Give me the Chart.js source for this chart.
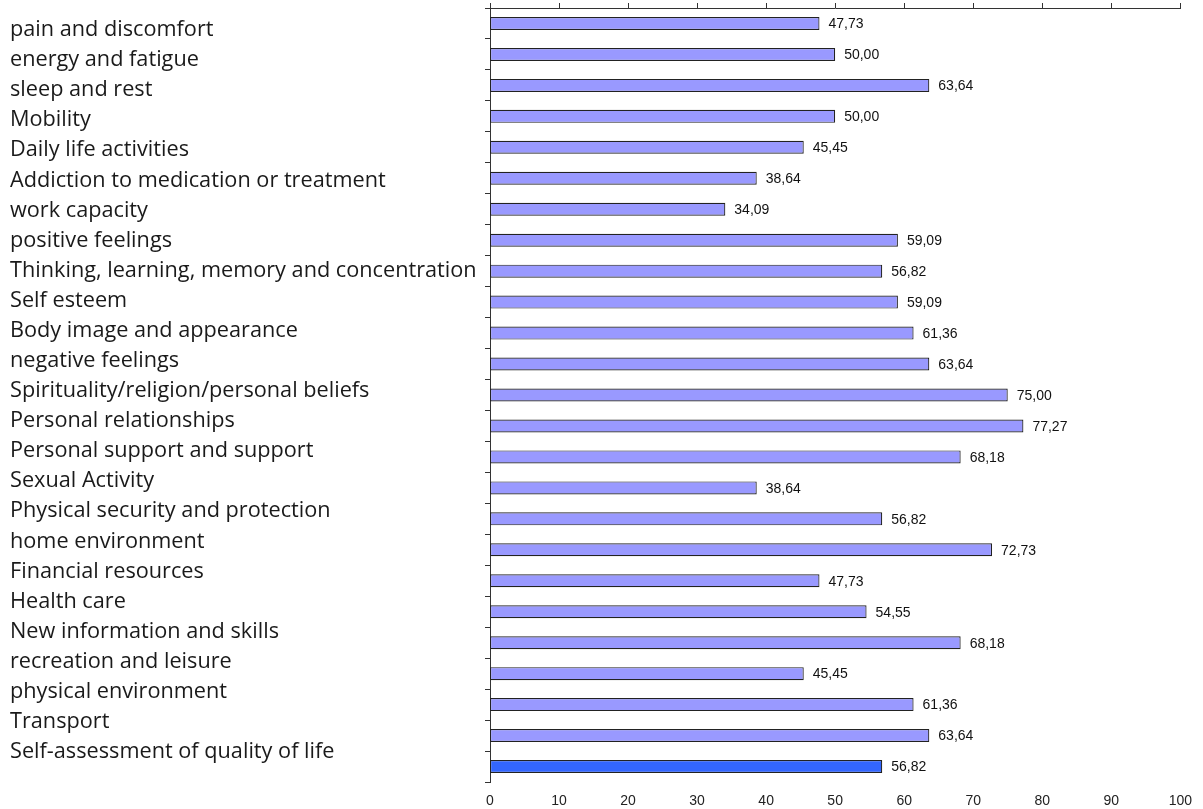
<!DOCTYPE html>
<html>
<head>
<meta charset="utf-8">
<script src="https://cdn.jsdelivr.net/npm/chart.js@4.4.0/dist/chart.umd.min.js"></script>
<style>
  html, body { margin: 0; padding: 0; background: #fff; }
  #wrap { width: 1203px; height: 809px; }
</style>
</head>
<body>
<div id="wrap"><canvas id="qolChart"></canvas></div>
<script>
const factors = [
    'pain and discomfort',
    'energy and fatigue',
    'sleep and rest',
    'Mobility',
    'Daily life activities',
    'Addiction to medication or treatment',
    'work capacity',
    'positive feelings',
    'Thinking, learning, memory and concentration',
    'Self esteem',
    'Body image and appearance',
    'negative feelings',
    'Spirituality/religion/personal beliefs',
    'Personal relationships',
    'Personal support and support',
    'Sexual Activity',
    'Physical security and protection',
    'home environment',
    'Financial resources',
    'Health care',
    'New information and skills',
    'recreation and leisure',
    'physical environment',
    'Transport',
    'Self-assessment of quality of life'
];
const scores = [47.73, 50.00, 63.64, 50.00, 45.45, 38.64, 34.09, 59.09, 56.82, 59.09,
    61.36, 63.64, 75.00, 77.27, 68.18, 38.64, 56.82, 72.73, 47.73, 54.55,
    68.18, 45.45, 61.36, 63.64, 56.82];
const xTicks = [0, 10, 20, 30, 40, 50, 60, 70, 80, 90, 100];

const barFill = '#9999ff';
const totalFill = '#3366ff';
const axisColor = '#333333';

// the text column on the left is spaced a bit tighter than the bars
const labelMin = -0.73;
const labelMax = 25.0;

const valueLabels = {
    id: 'valueLabels',
    afterDatasetsDraw(chart) {
        const ctx = chart.ctx;
        const meta = chart.getDatasetMeta(0);
        ctx.save();
        ctx.font = '14px "Liberation Sans", Arial, sans-serif';
        ctx.fillStyle = '#111';
        ctx.textBaseline = 'middle';
        meta.data.forEach((bar, i) => {
            ctx.fillText(scores[i].toFixed(2).replace('.', ','), bar.x + 9, bar.y + 1);
        });
        ctx.restore();
    }
};

const ctx = document.getElementById('qolChart');
new Chart(ctx, {
    type: 'bar',
    data: {
        labels: factors,
        datasets: [{
            data: scores,
            xAxisID: 'x',
            yAxisID: 'y',
            backgroundColor: scores.map((_, i) => i === scores.length - 1 ? totalFill : barFill),
            borderColor: '#222',
            borderWidth: 1.2,
            borderSkipped: false,
            categoryPercentage: 1,
            barPercentage: 0.42
        }]
    },
    options: {
        indexAxis: 'y',
        responsive: true,
        maintainAspectRatio: false,
        animation: false,
        layout: {
            padding: { left: 10, right: 20, top: 3, bottom: 0 }
        },
        plugins: {
            legend: { display: false },
            tooltip: { enabled: false }
        },
        scales: {
            x: {
                type: 'linear',
                position: 'bottom',
                min: 0,
                max: 100,
                afterBuildTicks: (axis) => { axis.ticks = xTicks.map(v => ({ value: v })); },
                afterFit: (axis) => { axis.height = 27; },
                grid: { display: false, drawTicks: false },
                border: { display: false },
                ticks: {
                    padding: 11,
                    color: '#222',
                    font: { family: '"Liberation Sans", Arial, sans-serif', size: 14 }
                }
            },
            x2: {
                type: 'linear',
                position: 'top',
                offset: false,
                min: 0,
                max: 100,
                afterBuildTicks: (axis) => { axis.ticks = xTicks.map(v => ({ value: v })); },
                grid: { drawOnChartArea: false, tickLength: 5, color: axisColor },
                border: { display: true, color: axisColor, width: 1 },
                ticks: { display: false }
            },
            y: {
                type: 'category',
                position: 'left',
                weight: 0,
                offset: true,
                grid: { drawOnChartArea: false, offset: true, tickLength: 5, color: axisColor },
                border: { display: true, color: axisColor, width: 1 },
                ticks: { display: false }
            },
            yLab: {
                type: 'linear',
                position: 'left',
                weight: 1,
                offset: false,
                reverse: true,
                min: labelMin,
                max: labelMax,
                afterBuildTicks: (axis) => { axis.ticks = factors.map((_, i) => ({ value: i })); },
                afterFit: (axis) => {
                    axis.width = 475;
                    axis.paddingTop = 0;
                    axis.paddingBottom = 0;
                },
                grid: { display: false, drawTicks: false },
                border: { display: false },
                ticks: {
                    autoSkip: false,
                    crossAlign: 'far',
                    color: '#1a1a1a',
                    font: { family: '"Open Sans"', size: 21.7, lineHeight: 0.2 },
                    callback: (v) => factors[v] ?? ''
                }
            }
        }
    },
    plugins: [valueLabels]
});
</script>
</body>
</html>
